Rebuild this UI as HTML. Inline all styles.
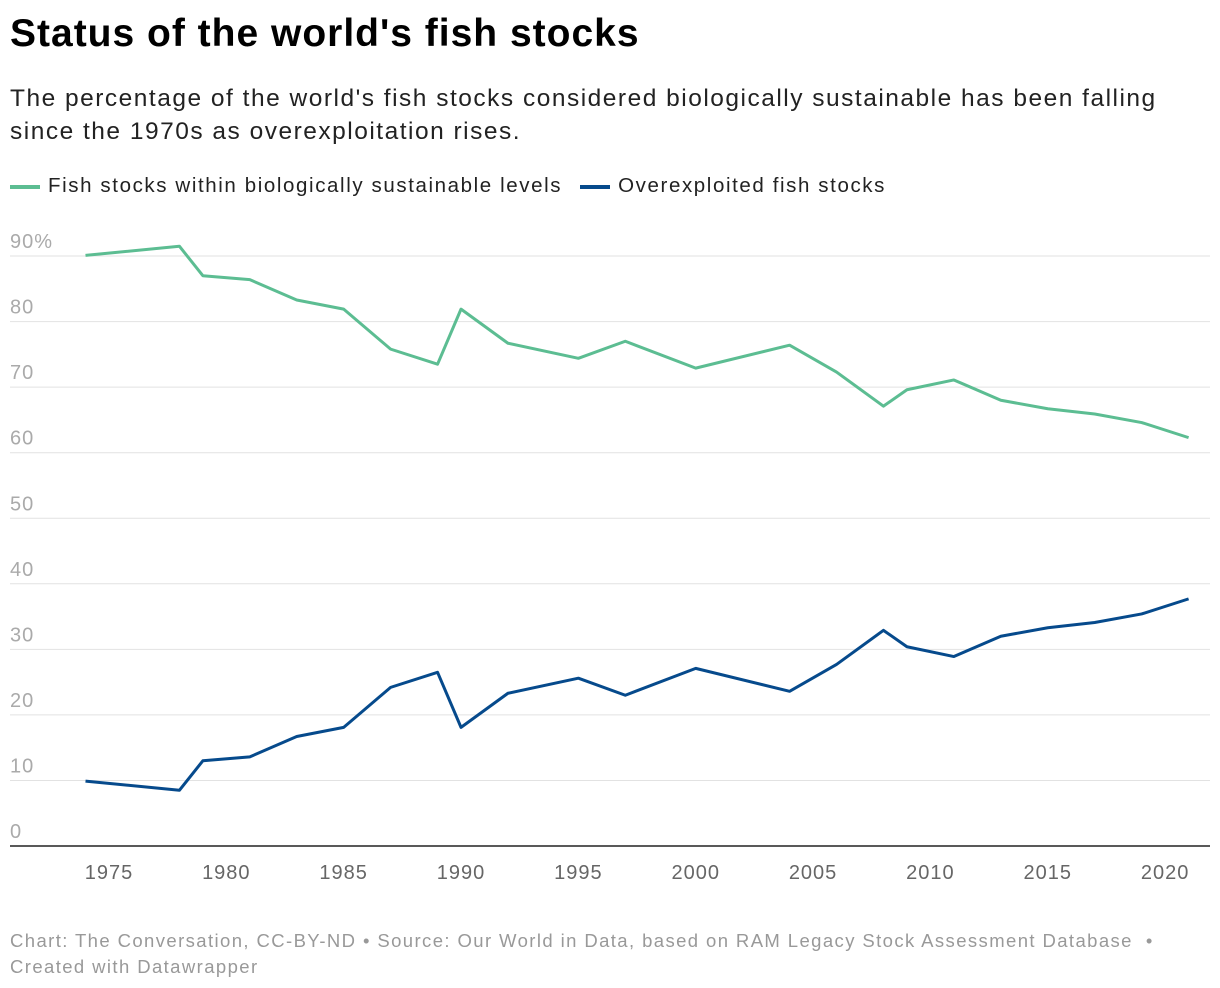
<!DOCTYPE html>
<html><head><meta charset="utf-8"><style>
body{margin:0;background:#fff;font-family:"Liberation Sans",sans-serif;width:1220px;height:988px;overflow:hidden;position:relative}
.t{position:absolute;left:10px;margin:0}
</style></head><body>
<h1 class="t" style="top:12px;font-size:39px;font-weight:bold;color:#000;letter-spacing:1px">Status of the world's fish stocks</h1>
<p class="t" style="top:82px;font-size:24.5px;line-height:33px;color:#222;width:1185px;letter-spacing:1.5px">The percentage of the world's fish stocks considered biologically sustainable has been falling since the 1970s as overexploitation rises.</p>
<div class="t" style="top:174px;font-size:20.5px;color:#222;display:flex;gap:18px;letter-spacing:1.6px">
<span><span style="display:inline-block;width:30px;height:4px;background:#5cbd92;vertical-align:middle;margin-right:8px"></span>Fish stocks within biologically sustainable levels</span>
<span><span style="display:inline-block;width:30px;height:4px;background:#064a8c;vertical-align:middle;margin-right:8px"></span>Overexploited fish stocks</span>
</div>
<svg id="chart" width="1220" height="988" style="position:absolute;left:0;top:0"></svg>
<div class="t" style="top:928px;font-size:18.5px;line-height:26px;color:#999;letter-spacing:1.4px">Chart: The Conversation, CC-BY-ND • Source: Our World in Data, based on RAM Legacy Stock Assessment Database &nbsp;•<br>Created with Datawrapper</div>
<script>
const years=[1974,1978,1979,1981,1983,1985,1987,1989,1990,1992,1995,1997,2000,2004,2006,2008,2009,2011,2013,2015,2017,2019,2021];
const sustainable=[90.1,91.5,87,86.4,83.3,81.9,75.8,73.5,81.9,76.7,74.4,77,72.9,76.4,72.3,67.1,69.6,71.1,68,66.7,65.9,64.6,62.3];
const overexploited=[9.9,8.5,13,13.6,16.7,18.1,24.2,26.5,18.1,23.3,25.6,23,27.1,23.6,27.7,32.9,30.4,28.9,32,33.3,34.1,35.4,37.7];
const yTicks=[0,10,20,30,40,50,60,70,80,90];
const xTicks=[1975,1980,1985,1990,1995,2000,2005,2010,2015,2020];
const NS="http://www.w3.org/2000/svg",svg=document.getElementById('chart');
const x=v=>85.5+(v-1974)*23.47, y=v=>846-v*6.555;
function mk(t,a){const e=document.createElementNS(NS,t);for(const k in a)e.setAttribute(k,a[k]);svg.appendChild(e);return e;}
yTicks.forEach(v=>{
 if(v>0){const g=mk('line',{x1:10,x2:1210,y1:y(v),y2:y(v),stroke:'#e2e2e2','stroke-width':1});
 
 }
 const t=mk('text',{x:10,y:y(v)-8,'font-size':20,fill:'#aaa','font-family':'Liberation Sans','letter-spacing':1});
 t.textContent=v===90?'90%':v;
 
 
});
const base=mk('line',{x1:10,x2:1210,y1:846,y2:846,stroke:'#222','stroke-width':1.5});


xTicks.forEach(v=>{
 const t=mk('text',{x:x(v),y:879,'font-size':20,fill:'#666','text-anchor':'middle','font-family':'Liberation Sans','letter-spacing':1});
 t.textContent=v;
 
 
});
function line(vals,color,name){
 const p=mk('polyline',{points:years.map((yr,i)=>x(yr)+','+y(vals[i])).join(' '),fill:'none',stroke:color,'stroke-width':3,'stroke-linejoin':'round'});
 
 
}
line(sustainable,'#5cbd92','sustainable-line');
line(overexploited,'#064a8c','overexploited-line');
</script>
</body></html>
